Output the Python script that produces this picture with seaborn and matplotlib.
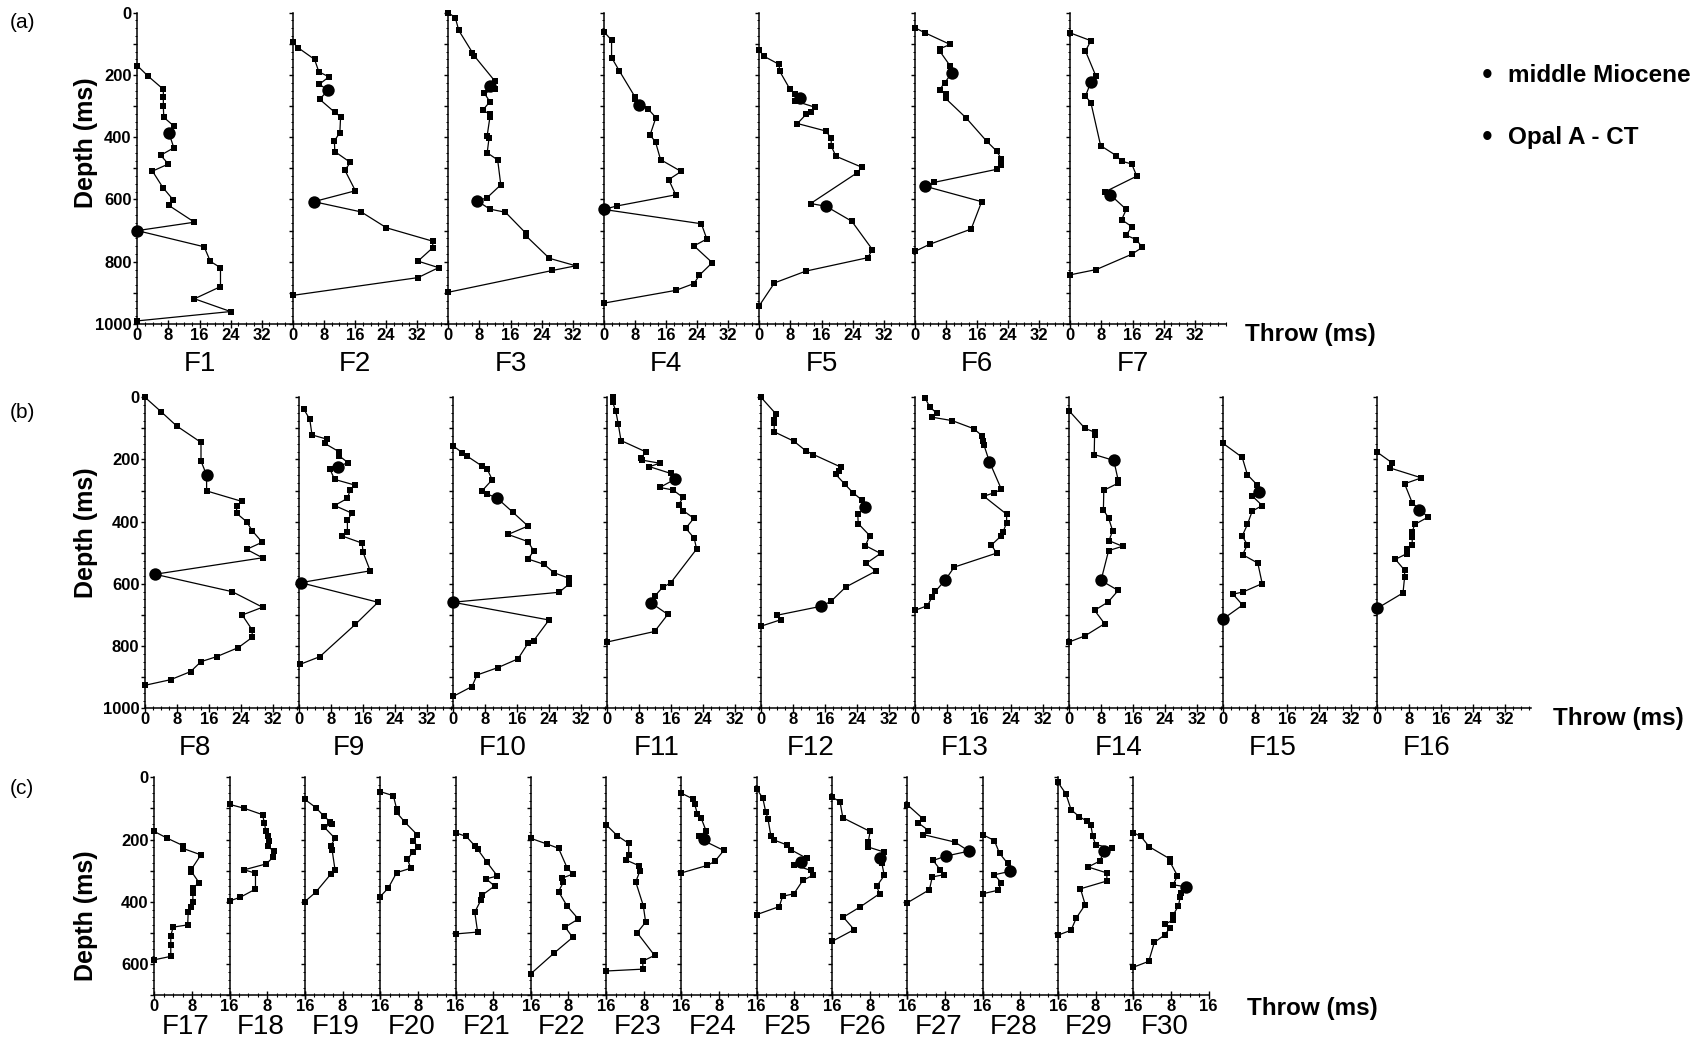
import matplotlib
matplotlib.use("Agg")
import matplotlib.pyplot as plt
import pandas as pd
import seaborn as sns
from matplotlib.ticker import MultipleLocator

sns.set_theme(style="ticks")
plt.rcParams["font.family"] = ["Liberation Sans", "DejaVu Sans"]

# ---------------- data: depth (ms), throw (ms), horizon depths ----------------
F1_depth = [170, 203, 246, 270, 300, 336, 364, 385, 434, 458, 486, 509, 562, 602, 619, 673, 700, 752, 799, 819, 880, 919, 960, 990]
F1_throw = [0, 2.7, 6.7, 6.7, 6.7, 6.8, 9.4, 8.1, 9.4, 6.0, 8.0, 3.9, 6.6, 9.3, 8.1, 14.7, 0, 17.2, 18.8, 21.4, 21.4, 14.7, 24.0, 0]
F1_horizon = [385, 700]

F2_depth = [95, 112, 150, 190, 206, 230, 249, 278, 320, 334, 385, 412, 446, 481, 506, 572, 607, 640, 691, 734, 755, 798, 819, 851, 908]
F2_throw = [0, 1.3, 5.6, 6.7, 9.3, 6.8, 9.1, 6.9, 10.8, 12.3, 12.1, 10.7, 10.8, 14.8, 13.4, 16.1, 5.4, 17.6, 24.1, 36.0, 36.0, 32.2, 37.5, 32.2, 0]
F2_horizon = [249, 607]

F3_depth = [0, 16, 57, 128, 139, 220, 236, 244, 259, 286, 314, 325, 336, 395, 401, 450, 473, 553, 594, 605, 631, 641, 709, 717, 789, 813, 828, 898]
F3_throw = [0, 1.8, 2.7, 6.2, 6.7, 12.0, 10.7, 12.1, 9.3, 10.7, 8.8, 10.7, 10.7, 10.0, 10.5, 10.0, 12.7, 13.5, 10.0, 7.5, 10.7, 14.7, 20.0, 20.0, 26.0, 32.8, 26.8, 0]
F3_horizon = [236, 605]

F4_depth = [61, 88, 144, 187, 270, 278, 296, 308, 337, 393, 415, 472, 510, 536, 585, 621, 632, 678, 727, 749, 803, 843, 870, 892, 933]
F4_throw = [0, 2.0, 2.0, 4.0, 8.0, 8.0, 9.1, 11.3, 13.4, 11.9, 13.3, 14.6, 19.9, 16.7, 18.5, 3.3, 0, 25.1, 26.5, 23.2, 27.9, 24.6, 23.2, 18.5, 0]
F4_horizon = [296, 632]

F5_depth = [121, 140, 166, 187, 246, 260, 273, 283, 304, 319, 327, 356, 380, 403, 428, 461, 496, 514, 613, 622, 670, 761, 787, 830, 868, 941]
F5_throw = [0, 1.2, 5.1, 5.2, 7.9, 9.1, 10.5, 9.1, 14.4, 13.2, 12.0, 9.8, 17.1, 18.5, 18.5, 19.7, 26.3, 25.2, 13.2, 17.2, 23.8, 29.1, 27.9, 12.0, 3.9, 0]
F5_horizon = [273, 622]

F6_depth = [48, 64, 102, 116, 123, 171, 194, 225, 247, 262, 275, 338, 413, 445, 471, 488, 503, 545, 557, 607, 695, 744, 767]
F6_throw = [0, 2.5, 9.1, 6.4, 6.4, 9.1, 9.5, 7.7, 6.4, 7.9, 7.9, 13.2, 18.5, 21.1, 22.3, 22.3, 21.1, 5.0, 2.5, 17.2, 14.5, 3.8, 0]
F6_horizon = [194, 557]

F7_depth = [65, 90, 123, 204, 223, 268, 289, 427, 459, 477, 486, 525, 575, 585, 632, 665, 687, 715, 729, 754, 776, 825, 842]
F7_throw = [0, 5.3, 3.9, 6.6, 5.3, 3.9, 5.3, 7.8, 11.8, 13.2, 15.8, 17.1, 9.0, 10.3, 14.4, 13.2, 15.8, 14.4, 17.0, 18.5, 15.8, 6.7, 0]
F7_horizon = [223, 585]

F8_depth = [0, 46, 92, 145, 205, 250, 301, 335, 348, 373, 400, 429, 466, 489, 516, 569, 625, 675, 700, 748, 772, 805, 834, 850, 882, 908, 926]
F8_throw = [0, 4.0, 7.9, 14.0, 14.0, 15.4, 15.4, 24.3, 22.9, 22.9, 25.4, 26.8, 29.3, 25.4, 29.4, 2.5, 21.8, 29.4, 24.3, 26.8, 26.8, 23.3, 17.9, 14.0, 11.4, 6.4, 0]
F8_horizon = [250, 569]

F9_depth = [39, 71, 121, 135, 148, 175, 188, 210, 223, 230, 264, 282, 298, 325, 348, 373, 394, 432, 446, 469, 498, 558, 596, 659, 730, 834, 859]
F9_throw = [1.25, 2.7, 3.25, 7.1, 6.4, 10.0, 10.0, 12.25, 9.75, 7.7, 8.9, 13.9, 12.8, 12.1, 8.9, 13.3, 12.1, 12.1, 10.8, 15.8, 16.0, 17.8, 0.4, 19.75, 14.1, 5.2, 0.2]
F9_horizon = [223, 596]

F10_depth = [156, 178, 189, 221, 232, 265, 301, 311, 325, 370, 414, 441, 464, 494, 520, 537, 564, 582, 601, 627, 659, 716, 782, 791, 841, 869, 893, 930, 962]
F10_throw = [0, 2.3, 3.5, 7.25, 8.6, 9.8, 7.25, 8.6, 11.1, 15.0, 18.75, 13.75, 18.75, 20.2, 18.75, 22.75, 25.25, 29.0, 29.0, 26.5, 0, 24.0, 20.2, 18.75, 16.25, 11.25, 6.0, 4.75, 0]
F10_horizon = [325, 659]

F11_depth = [0, 15, 45, 85, 139, 176, 194, 202, 212, 223, 245, 264, 290, 298, 322, 346, 365, 389, 421, 453, 488, 597, 611, 640, 661, 698, 753, 787]
F11_throw = [1.4, 1.4, 2.2, 2.8, 3.5, 9.8, 8.5, 8.8, 13.2, 10.6, 16.0, 16.9, 13.2, 16.5, 19.0, 17.9, 19.1, 21.7, 19.7, 21.8, 22.4, 15.9, 13.9, 11.9, 11.0, 15.2, 11.9, 0]
F11_horizon = [264, 661]

F12_depth = [0, 53, 72, 82, 111, 141, 173, 184, 224, 237, 248, 280, 307, 331, 354, 376, 406, 445, 477, 502, 534, 559, 610, 656, 672, 701, 715, 736]
F12_throw = [0, 3.7, 3.3, 3.3, 3.3, 8.2, 11.3, 13.1, 19.9, 19.6, 18.7, 21.0, 23.0, 25.3, 26.1, 24.2, 24.3, 27.2, 26.1, 29.9, 26.3, 28.7, 21.2, 17.5, 15.0, 3.9, 5.0, 0]
F12_horizon = [354, 672]

F13_depth = [2, 31, 52, 64, 75, 101, 123, 139, 152, 207, 296, 307, 318, 376, 403, 434, 445, 475, 501, 546, 587, 624, 642, 670, 685]
F13_throw = [2.5, 3.7, 5.5, 4.3, 9.3, 14.7, 16.7, 17.1, 17.2, 18.6, 21.6, 19.8, 17.2, 22.9, 22.9, 22.0, 21.6, 19.1, 20.4, 9.8, 7.6, 5.1, 4.3, 3.1, 0]
F13_horizon = [207, 587]

F14_depth = [43, 100, 112, 120, 184, 203, 267, 276, 299, 362, 388, 429, 461, 479, 493, 589, 621, 658, 685, 728, 767, 787]
F14_throw = [0, 4.0, 6.4, 6.4, 6.3, 11.2, 12.3, 12.3, 8.7, 8.6, 9.9, 10.9, 10.0, 13.4, 9.9, 8.0, 12.3, 9.8, 6.4, 8.9, 4.0, 0]
F14_horizon = [203, 589]

F15_depth = [148, 193, 249, 281, 305, 316, 348, 366, 409, 446, 474, 506, 533, 599, 626, 633, 668, 713]
F15_throw = [0, 4.8, 6.1, 8.5, 8.9, 7.2, 9.8, 7.3, 6.1, 4.8, 6.1, 4.9, 8.7, 9.8, 5.0, 2.5, 4.9, 0]
F15_horizon = [305, 713]

F16_depth = [176, 211, 227, 259, 278, 339, 361, 385, 409, 433, 449, 474, 487, 503, 521, 556, 578, 629, 679]
F16_throw = [0, 3.8, 3.2, 11.1, 6.9, 8.8, 10.6, 12.8, 9.4, 8.8, 8.8, 8.8, 7.6, 7.4, 4.6, 6.9, 6.9, 6.5, 0]
F16_horizon = [361, 679]

F17_depth = [174, 196, 220, 229, 249, 295, 303, 338, 356, 372, 402, 415, 431, 474, 481, 509, 538, 575, 586]
F17_throw = [0, 2.8, 6.2, 6.2, 9.9, 7.9, 7.9, 9.5, 8.2, 8.2, 8.2, 7.8, 7.2, 7.1, 4.0, 3.5, 3.5, 3.5, 0]
F17_horizon = []

F18_depth = [87, 99, 120, 147, 172, 190, 206, 222, 238, 257, 278, 297, 308, 359, 385, 397]
F18_throw = [0, 3.0, 7.0, 7.4, 7.7, 8.2, 8.3, 8.2, 9.4, 9.2, 7.8, 3.1, 5.5, 5.5, 2.3, 0]
F18_horizon = []

F19_depth = [71, 97, 124, 142, 150, 160, 196, 220, 235, 297, 311, 369, 399]
F19_throw = [0, 2.3, 4.0, 5.3, 5.8, 4.1, 6.4, 5.5, 5.8, 6.4, 5.5, 2.3, 0]
F19_horizon = []

F20_depth = [46, 59, 102, 113, 145, 185, 203, 225, 239, 263, 292, 306, 356, 383]
F20_throw = [0, 2.8, 3.5, 3.5, 5.3, 7.9, 7.0, 8.1, 7.0, 5.8, 6.5, 3.5, 1.7, 0]
F20_horizon = []

F21_depth = [178, 190, 220, 231, 271, 317, 326, 349, 378, 394, 433, 497, 503]
F21_throw = [0, 2.3, 4.1, 4.7, 6.6, 8.9, 6.5, 8.3, 5.7, 5.4, 4.1, 4.7, 0]
F21_horizon = []

F22_depth = [196, 214, 228, 290, 311, 324, 337, 367, 413, 455, 481, 514, 565, 631]
F22_throw = [0, 3.4, 5.9, 7.7, 8.9, 6.6, 6.9, 5.9, 7.7, 10.1, 7.3, 8.9, 4.9, 0]
F22_horizon = []

F23_depth = [152, 188, 212, 249, 266, 284, 300, 336, 412, 465, 499, 572, 590, 616, 622]
F23_throw = [0, 2.4, 4.8, 4.8, 4.3, 7.0, 7.2, 6.3, 7.9, 8.4, 6.6, 10.3, 7.8, 7.8, 0]
F23_horizon = []

F24_depth = [51, 69, 85, 118, 131, 174, 187, 198, 206, 235, 270, 283, 307]
F24_throw = [0, 2.4, 2.8, 3.4, 4.2, 5.3, 3.8, 4.7, 5.1, 9.0, 7.1, 5.5, 0]
F24_horizon = [198]

F25_depth = [37, 67, 110, 134, 187, 201, 217, 232, 260, 272, 281, 299, 315, 331, 374, 382, 415, 441]
F25_throw = [0, 1.3, 1.9, 2.4, 3.0, 3.6, 6.4, 7.2, 10.6, 9.4, 7.9, 11.5, 11.9, 9.8, 7.9, 5.5, 4.8, 0]
F25_horizon = [272]

F26_depth = [64, 78, 130, 174, 208, 224, 240, 260, 276, 315, 350, 374, 417, 449, 489, 527]
F26_throw = [0, 1.7, 2.3, 8.1, 7.7, 7.7, 11.1, 10.2, 10.6, 11.1, 9.5, 10.1, 5.9, 2.4, 4.7, 0]
F26_horizon = [260]

F27_depth = [88, 134, 146, 171, 184, 208, 237, 253, 267, 297, 313, 320, 361, 403]
F27_throw = [0, 3.4, 2.3, 4.5, 3.4, 10.1, 13.1, 8.2, 5.5, 7.0, 7.7, 5.3, 4.7, 0]
F27_horizon = [237, 253]

F28_depth = [184, 203, 244, 276, 302, 313, 339, 363, 374]
F28_throw = [0, 2.5, 3.6, 5.3, 5.8, 2.5, 4.0, 3.2, 0]
F28_horizon = [302]

F29_depth = [16, 53, 104, 126, 141, 153, 189, 216, 228, 238, 269, 288, 307, 333, 358, 409, 452, 491, 507]
F29_throw = [0, 1.7, 2.8, 4.5, 6.2, 7.0, 7.4, 8.0, 11.5, 9.8, 8.9, 6.4, 10.4, 10.4, 4.8, 5.8, 3.9, 2.8, 0]
F29_horizon = [238]

F30_depth = [178, 189, 223, 262, 271, 316, 345, 352, 371, 384, 413, 442, 459, 472, 484, 506, 530, 591, 610]
F30_throw = [0, 1.6, 3.4, 7.8, 7.8, 9.4, 8.5, 11.3, 10.1, 10.0, 9.6, 8.5, 8.4, 6.7, 7.8, 6.7, 4.5, 3.3, 0]
F30_horizon = [352]

row_a = ["F1", "F2", "F3", "F4", "F5", "F6", "F7"]
row_b = ["F8", "F9", "F10", "F11", "F12", "F13", "F14", "F15", "F16"]
row_c = ["F17", "F18", "F19", "F20", "F21", "F22", "F23", "F24", "F25", "F26", "F27", "F28", "F29", "F30"]
legend_labels = ["middle Miocene", "Opal A - CT"]

panels = {}
for _n in row_a + row_b + row_c:
    panels[_n] = (globals()[_n + "_depth"], globals()[_n + "_throw"], globals()[_n + "_horizon"])

# ---------------- layout ----------------
W, H = 1700, 1046
fig = plt.figure(figsize=(W / 100, H / 100), dpi=100)
fig.patch.set_facecolor("white")


def add_ax(left, top, w, h):
    return fig.add_axes([left / W, 1 - (top + h) / H, w / W, h / H])


def fx(px):
    return px / W


def fy(py):
    return 1 - py / H


rows = [
    dict(names=row_a, left=137.3, step=155.5, top=12.7, height=311.3, xmax=40.0, ymax=1000,
         xticks=[0, 8, 16, 24, 32], labx=16.0, laby=364, sq=14, big=80, fsz=20,
         ylab_y=143, throw=(1245, 335), letter=("(a)", 22), first_zero=True),
    dict(names=row_b, left=145.0, step=154.0, top=397.3, height=311.0, xmax=38.5, ymax=1000,
         xticks=[0, 8, 16, 24, 32], labx=12.5, laby=748, sq=14, big=80, fsz=20,
         ylab_y=533, throw=(1553, 719), letter=("(b)", 413), first_zero=True),
    dict(names=row_c, left=154.3, step=75.3, top=777.3, height=218.0, xmax=16.0, ymax=700,
         xticks=[0, 8, 16], labx=6.6, laby=1027, sq=22, big=80, fsz=20,
         ylab_y=916, throw=(1247, 1008), letter=("(c)", 788), first_zero=False),
]

for row in rows:
    for i, name in enumerate(row["names"]):
        d, t, hz = panels[name]
        ax = add_ax(row["left"] + i * row["step"], row["top"], row["step"], row["height"])
        ax.patch.set_visible(False)
        df = pd.DataFrame({"depth": d, "throw": t})
        sns.lineplot(data=df, x="throw", y="depth", sort=False, estimator=None,
                     color="black", lw=0.9, ax=ax, clip_on=False)
        sns.scatterplot(data=df, x="throw", y="depth", marker="s", s=row["sq"],
                        color="black", linewidth=0, ax=ax, clip_on=False, zorder=3)
        big = df[df["depth"].isin(hz)]
        if len(big):
            sns.scatterplot(data=big, x="throw", y="depth", marker="o", s=row["big"],
                            color="black", linewidth=0, ax=ax, clip_on=False, zorder=4)
        ax.set_xlim(0, row["xmax"])
        ax.set_ylim(row["ymax"], 0)
        ax.set_xlabel("")
        ax.set_ylabel("")
        for s in ["top", "right"]:
            ax.spines[s].set_visible(False)
        for s in ["left", "bottom"]:
            ax.spines[s].set_linewidth(1.1)
            ax.spines[s].set_color("black")
        # x ticks
        ax.set_xticks(row["xticks"])
        if (not row["first_zero"]) and i > 0:
            xl = [""] + [str(v) for v in row["xticks"][1:]]
        else:
            xl = [str(v) for v in row["xticks"]]
        ax.set_xticklabels(xl, fontweight="bold")
        ax.xaxis.set_minor_locator(MultipleLocator(2))
        ax.tick_params(axis="x", which="major", direction="inout", length=6, width=1.0,
                       pad=0, labelsize=12, colors="black")
        ax.tick_params(axis="x", which="minor", direction="inout", length=3, width=0.8,
                       colors="black")
        # y ticks
        yt = list(range(0, row["ymax"] + 1, 100))
        ax.set_yticks(yt)
        if i == 0:
            ax.set_yticklabels([str(v) if v % 200 == 0 else "" for v in yt], fontweight="bold")
        else:
            ax.set_yticklabels([""] * len(yt))
        ax.yaxis.set_minor_locator(MultipleLocator(25))
        ax.tick_params(axis="y", which="major", direction="out", length=3, width=1.0,
                       pad=1, labelsize=12, colors="black")
        ax.tick_params(axis="y", which="minor", direction="out", length=1.8, width=0.7,
                       colors="black")
        # panel label
        x_lab_px = row["left"] + i * row["step"] + row["labx"] / row["xmax"] * row["step"]
        fig.text(fx(x_lab_px), fy(row["laby"]), name, ha="center", va="center",
                 fontsize=row["fsz"], color="black")
    # depth label
    fig.text(fx(86), fy(row["ylab_y"]), "Depth (ms)", rotation=90, ha="center", va="center",
             fontsize=18, fontweight="bold", color="black")
    # throw label
    fig.text(fx(row["throw"][0]), fy(row["throw"][1]), "Throw (ms)", ha="left", va="center",
             fontsize=17.5, fontweight="bold", color="black")
    # row letter
    fig.text(fx(10), fy(row["letter"][1]), row["letter"][0], ha="left", va="center",
             fontsize=15, color="black")

# legend
for k, lab in enumerate(legend_labels):
    yy = 76 + k * 62
    fig.text(fx(1487), fy(yy), "\u2022", ha="center", va="center", fontsize=22, color="black")
    fig.text(fx(1508), fy(yy), lab, ha="left", va="center", fontsize=17.5,
             fontweight="bold", color="black")

fig.savefig("out.png", dpi=100, facecolor="white")
